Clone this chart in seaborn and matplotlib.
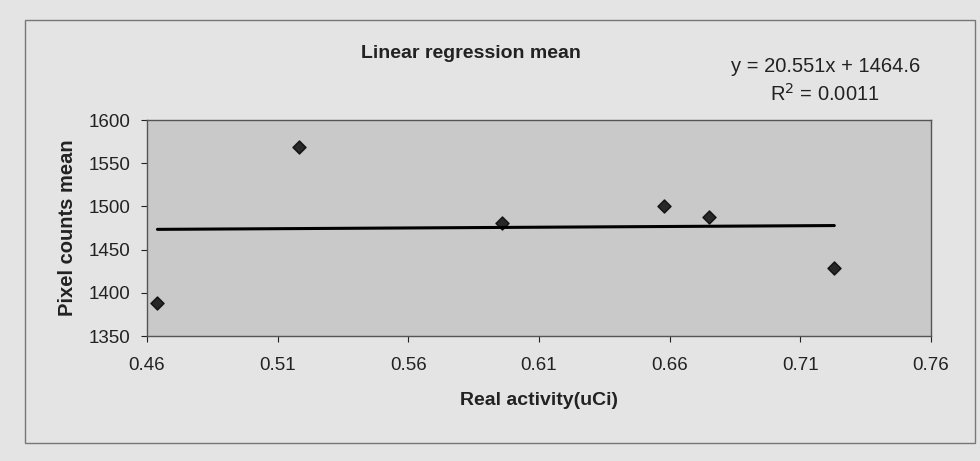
import numpy as np
import pandas as pd
import seaborn as sns
import matplotlib.pyplot as plt
from matplotlib.patches import Rectangle

# activity vs pixel counts
activity = [0.464, 0.518, 0.596, 0.658, 0.675, 0.723]
pixel_mean = [1388, 1569, 1481, 1500, 1488, 1429]
x_ticks = [0.46, 0.51, 0.56, 0.61, 0.66, 0.71, 0.76]
y_ticks = [1350, 1400, 1450, 1500, 1550, 1600]
eq_text = "y = 20.551x + 1464.6"
r2_text = "R$^2$ = 0.0011"

df = pd.DataFrame({"activity": activity, "pixel_mean": pixel_mean})

sns.set_theme(style="white")
plt.rcParams["font.family"] = ["Liberation Sans", "DejaVu Sans"]

fig = plt.figure(figsize=(9.8, 4.61), dpi=100, facecolor="#e4e4e4")
ax = fig.add_axes([147 / 980, 1 - 336 / 461, 784 / 980, 216 / 461])
ax.set_facecolor("#c9c9c9")

sns.regplot(
    data=df, x="activity", y="pixel_mean", ax=ax, ci=None, truncate=True,
    marker="D",
    scatter_kws={"s": 45, "color": "black", "zorder": 3},
    line_kws={"color": "black", "linewidth": 2.2},
)

ax.set_xlim(0.46, 0.76)
ax.set_ylim(1350, 1600)
ax.set_xticks(x_ticks)
ax.set_xticklabels([f"{t:.2f}" for t in x_ticks])
ax.set_yticks(y_ticks)
ax.tick_params(axis="both", labelsize=13.5, colors="#222222", length=4,
               direction="out", bottom=True, left=True, width=0.8)
ax.tick_params(axis="x", pad=11)
ax.tick_params(axis="y", pad=8)
ax.set_xlabel("Real activity(uCi)", fontsize=14, weight="bold",
              color="#222222", labelpad=13)
ax.set_ylabel("Pixel counts mean", fontsize=14.5, weight="bold",
              color="#222222", labelpad=8)
for spine in ax.spines.values():
    spine.set_visible(True)
    spine.set_color("#555555")
    spine.set_linewidth(1.0)

fig.text(471 / 980, 1 - 53 / 461, "Linear regression mean", ha="center",
         va="center", fontsize=14, weight="bold", color="#222222")
fig.text(826 / 980, 1 - 66 / 461, eq_text, ha="center", va="center",
         fontsize=14.5, color="#222222")
fig.text(825 / 980, 1 - 94 / 461, r2_text, ha="center", va="center",
         fontsize=14.5, color="#222222")

# outer chart area border
fig.patches.append(Rectangle((25 / 980, 1 - 443 / 461), 950 / 980, 423 / 461,
                             transform=fig.transFigure, fill=False,
                             edgecolor="#777777", linewidth=1.0))

fig.savefig("out.png", dpi=100, facecolor=fig.get_facecolor())
